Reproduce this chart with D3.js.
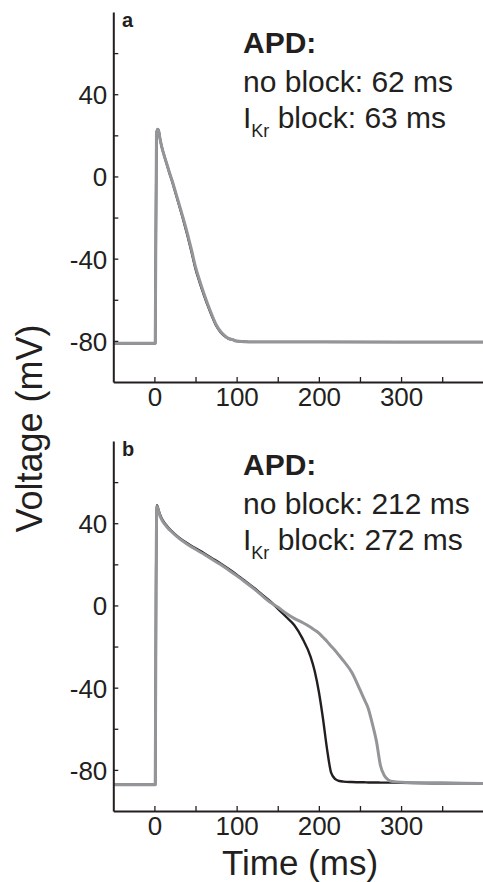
<!DOCTYPE html>
<html>
<head>
<meta charset="utf-8">
<script src="https://cdn.jsdelivr.net/npm/d3@7"></script>
<style>
  html, body { margin: 0; padding: 0; background: #fff; }
  svg { display: block; }
  text { font-family: Arial, "Liberation Sans", Helvetica, sans-serif; fill: #231f20; }
</style>
</head>
<body>
<svg id="chart" width="483" height="882"></svg>
<script>
// Panel a: short action potential (ms, mV)
const timeA = [-50, 0, 1, 2.5, 4, 5, 7, 9, 12, 15, 18, 22, 26, 30, 35, 40, 45, 50, 55, 60,
  65, 70, 75, 80, 85, 90, 95, 100, 110, 120, 140, 200, 300, 400];
const noBlockA = [-81.2, -81.2, -81.2, 21, 23, 22.5, 18, 14.3, 10, 6, 2, -3, -8.5, -14, -21, -28.5, -36.5, -45, -51.5, -57.5,
  -63, -68, -72.5, -75.5, -77.5, -78.9, -79.4, -80.1, -80.4, -80.5, -80.5, -80.5, -80.6, -80.6];
const ikrBlockA = [-81.2, -81.2, -81.2, 21, 23, 22.5, 18, 14.3, 10, 6.2, 2.3, -2.6, -8, -13.4, -20.3, -27.6, -35.5, -44, -50.6, -56.7,
  -62.3, -67.4, -72, -75.2, -77.3, -78.8, -79.4, -80.1, -80.4, -80.5, -80.5, -80.5, -80.6, -80.6];

// Panel b: long action potential (ms, mV)
const timeB = [-50, 0, 1, 2, 3, 5, 7, 10, 15, 20, 30, 40, 50, 60, 70, 80, 90, 100, 110, 120,
  130, 140, 150, 160, 170, 180, 190, 195, 200, 205, 210, 215, 220, 225, 230, 240, 250, 255, 260, 265,
  270, 275, 280, 285, 290, 300, 350, 400];
const noBlockB = [-87.2, -87.2, -87.2, 10, 48.8, 46.5, 44, 41.5, 38.8, 36.6, 33, 30.2, 27.8, 25.5, 23, 20.5, 17.8, 15, 12, 8.9,
  5.6, 2.3, -1.5, -5.5, -9.5, -16, -25, -32, -42, -55, -70, -81.5, -84.5, -85.4, -85.7, -85.9, -86, -86, -86.1, -86.1,
  -86.1, -86.2, -86.2, -86.2, -86.2, -86.3, -86.5, -86.6];
const ikrBlockB = [-87.2, -87.2, -87.2, 10, 48.3, 46, 43.4, 41, 38.3, 36.2, 32.6, 29.8, 27.3, 25, 22.5, 20, 17.3, 14.5, 11.5, 8.4,
  5.1, 1.8, -0.8, -3.8, -6.3, -8.3, -10.6, -12, -13.5, -15.5, -17.5, -19.8, -22, -24.5, -27, -32.5, -41, -45.5, -50, -57.5,
  -66, -78, -83, -85, -85.7, -86, -86.3, -86.6];

// Axis ticks
const xTicks = [0, 50, 100, 150, 200, 250, 300, 350, 400];
const xLabels = [0, 100, 200, 300];
const yTicks = [-80, -60, -40, -20, 0, 20, 40, 60];
const yLabels = [-80, -40, 0, 40];

// Annotation text
const apdA = { title: "APD:", noBlock: "no block: 62 ms", ikr: " block: 63 ms" };
const apdB = { title: "APD:", noBlock: "no block: 212 ms", ikr: " block: 272 ms" };

const ink = "#231f20";
const grey = "#939598";
const svg = d3.select("#chart");

const x = d3.scaleLinear().domain([-50, 400]).range([113.3, 483.3]);

function panel(opts) {
  const y = d3.scaleLinear().domain([-100, 80]).range([opts.bottom, opts.top]);
  const g = svg.append("g");

  const line = d3.line()
    .x((d, i) => x(opts.time[i]))
    .y(d => y(d))
    .curve(d3.curveMonotoneX);

  g.append("path").datum(opts.noBlock)
    .attr("d", line).attr("fill", "none")
    .attr("stroke", ink).attr("stroke-width", 2.4)
    .attr("stroke-linejoin", "round");
  g.append("path").datum(opts.ikr)
    .attr("d", line).attr("fill", "none")
    .attr("stroke", grey).attr("stroke-width", 3)
    .attr("stroke-linejoin", "round");

  const yAxis = d3.axisLeft(y).tickValues(yTicks).tickSizeInner(-5).tickSizeOuter(0).tickPadding(6)
    .tickFormat(d => yLabels.includes(d) ? d : "");
  const xAxis = d3.axisBottom(x).tickValues(xTicks).tickSizeInner(-5).tickSizeOuter(0).tickPadding(6)
    .tickFormat(d => xLabels.includes(d) ? d : "");

  const ya = g.append("g").attr("transform", `translate(${x(-50)},0)`).call(yAxis);
  const xa = g.append("g").attr("transform", `translate(0,${opts.bottom})`).call(xAxis);
  [ya, xa].forEach(a => {
    a.select(".domain").attr("stroke", ink).attr("stroke-width", 2);
    a.selectAll(".tick line").attr("stroke", ink).attr("stroke-width", 1.3);
    a.selectAll(".tick text").attr("fill", ink)
      .style("font-size", "26px").style("font-family", "Arial, 'Liberation Sans', sans-serif");
  });
  ya.selectAll(".tick text").attr("dy", "0.36em");

  g.append("text").attr("x", 122).attr("y", opts.top + 15)
    .style("font-size", "20px").style("font-weight", "bold").text(opts.letter);

  const tx = 243;
  g.append("text").attr("x", tx).attr("y", opts.textBase)
    .style("font-size", "30px").style("font-weight", "bold").text(opts.apd.title);
  g.append("text").attr("x", tx).attr("y", opts.textBase + 39)
    .style("font-size", "30px").text(opts.apd.noBlock);
  const t3 = g.append("text").attr("x", tx).attr("y", opts.textBase + 75).style("font-size", "30px");
  t3.append("tspan").text("I");
  t3.append("tspan").attr("dy", 9).style("font-size", "18px").text("Kr");
  t3.append("tspan").attr("dy", -9).text(opts.apd.ikr);
}

panel({ top: 12, bottom: 382, time: timeA, noBlock: noBlockA, ikr: ikrBlockA, letter: "a", apd: apdA, textBase: 53 });
panel({ top: 441, bottom: 811, time: timeB, noBlock: noBlockB, ikr: ikrBlockB, letter: "b", apd: apdB, textBase: 475 });

svg.append("text")
  .attr("transform", "translate(42,428.5) rotate(-90)")
  .attr("text-anchor", "middle")
  .style("font-size", "36px")
  .text("Voltage (mV)");

svg.append("text")
  .attr("x", 300).attr("y", 875)
  .attr("text-anchor", "middle")
  .style("font-size", "35px")
  .text("Time (ms)");
</script>
</body>
</html>
